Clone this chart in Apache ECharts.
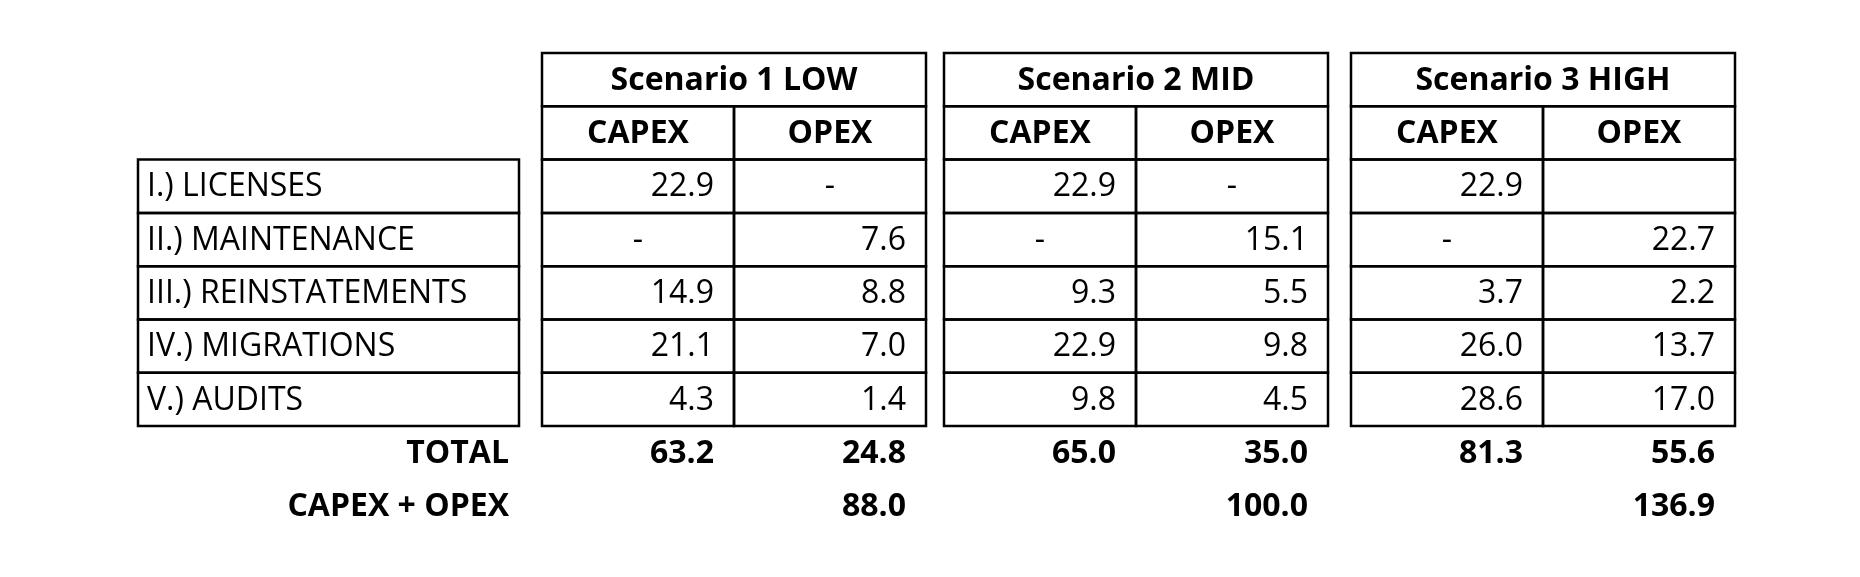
<!DOCTYPE html>
<html>
<head>
<meta charset="utf-8">
<script src="https://cdn.jsdelivr.net/npm/echarts@6/dist/echarts.min.js"></script>
<style>html,body{margin:0;background:#fff}#con{width:1860px;height:577px}</style>
</head>
<body>
<div id="con"></div>
<script>
var rowLabels = ['I.) LICENSES', 'II.) MAINTENANCE', 'III.) REINSTATEMENTS', 'IV.) MIGRATIONS', 'V.) AUDITS'];
var scenarios = ['Scenario 1 LOW', 'Scenario 2 MID', 'Scenario 3 HIGH'];
var subHeads = ['CAPEX', 'OPEX'];
// null = '-', '' = empty cell
var capex = [
	[22.9, null, 14.9, 21.1, 4.3],
	[22.9, null, 9.3, 22.9, 9.8],
	[22.9, null, 3.7, 26.0, 28.6]
];
var opex = [
	[null, 7.6, 8.8, 7.0, 1.4],
	[null, 15.1, 5.5, 9.8, 4.5],
	['', 22.7, 2.2, 13.7, 17.0]
];
var totalCapex = [63.2, 65.0, 81.3];
var totalOpex = [24.8, 35.0, 55.6];
var totalAll = [88.0, 100.0, 136.9];

// layout
var labelX = [138, 519];
var groupX = [542, 944, 1351];
var colW = 192;
var topY = 53, rowH = 53.3;
var font = '"Open Sans", sans-serif';

function fmt(v) {
	if (v === null) return '-';
	if (v === '') return '';
	return v.toFixed(1);
}

// cell: [x0, x1, y0, y1, text, align, bold, border]
var cells = [];
for (var r = 0; r < rowLabels.length; r++) {
	var y0 = topY + rowH * (r + 2);
	cells.push([labelX[0], labelX[1], y0, y0 + rowH, rowLabels[r], 'left', 0, 1]);
}
cells.push([labelX[0], labelX[1], topY + rowH * 7, topY + rowH * 8, 'TOTAL', 'right', 1, 0]);
cells.push([labelX[0], labelX[1], topY + rowH * 8, topY + rowH * 9, 'CAPEX + OPEX', 'right', 1, 0]);
for (var g = 0; g < scenarios.length; g++) {
	var gx = groupX[g];
	cells.push([gx, gx + colW * 2, topY, topY + rowH, scenarios[g], 'center', 1, 1]);
	for (var c = 0; c < 2; c++) {
		var cx = gx + colW * c;
		cells.push([cx, cx + colW, topY + rowH, topY + rowH * 2, subHeads[c], 'center', 1, 1]);
		var vals = c === 0 ? capex[g] : opex[g];
		for (var r = 0; r < vals.length; r++) {
			var y0 = topY + rowH * (r + 2);
			cells.push([cx, cx + colW, y0, y0 + rowH, fmt(vals[r]), vals[r] === null ? 'center' : 'right', 0, 1]);
		}
		var t = c === 0 ? totalCapex[g] : totalOpex[g];
		cells.push([cx, cx + colW, topY + rowH * 7, topY + rowH * 8, fmt(t), 'right', 1, 0]);
	}
	cells.push([gx + colW, gx + colW * 2, topY + rowH * 8, topY + rowH * 9, fmt(totalAll[g]), 'right', 1, 0]);
}

var myChart = echarts.init(document.getElementById('con'));
myChart.setOption({
	animation: false,
	grid: {left: 0, right: 0, top: 0, bottom: 0},
	xAxis: {type: 'value', min: 0, max: 1860, show: false},
	yAxis: {type: 'value', min: 0, max: 577, inverse: true, show: false},
	series: [{
		type: 'custom',
		data: cells,
		renderItem: function (params, api) {
			var d = cells[params.dataIndex];
			var p0 = api.coord([d[0], d[2]]);
			var p1 = api.coord([d[1], d[3]]);
			var tx = d[5] === 'left' ? p0[0] + 9 : d[5] === 'right' ? p1[0] - 20 : (p0[0] + p1[0]) / 2;
			if (d[5] === 'right' && d[0] === labelX[0]) tx = p1[0] - 10;
			var kids = [];
			if (d[7]) kids.push({
				type: 'rect',
				shape: {x: p0[0], y: p0[1], width: p1[0] - p0[0], height: p1[1] - p0[1]},
				style: {fill: null, stroke: '#000', lineWidth: 2.5}
			});
			kids.push({
				type: 'text',
				x: tx, y: (p0[1] + p1[1]) / 2 + 1,
				style: {
					text: d[4], fill: '#000', font: (d[6] ? 'bold ' : '') + '32px ' + font,
					align: d[5], verticalAlign: 'middle'
				}
			});
			return {type: 'group', children: kids};
		}
	}]
});
</script>
</body>
</html>
